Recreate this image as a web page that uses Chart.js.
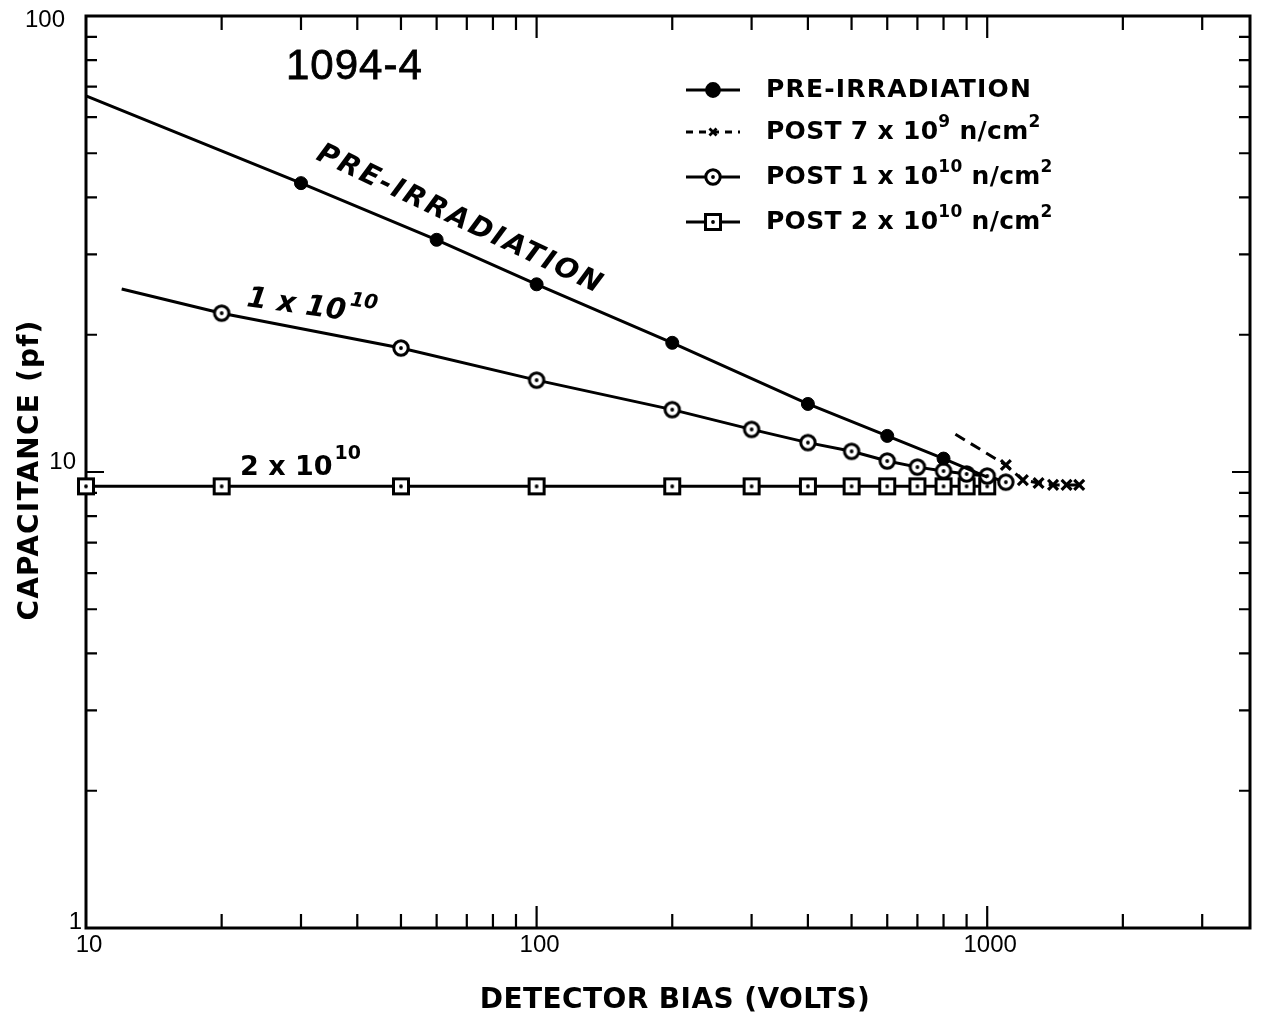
<!DOCTYPE html>
<html><head><meta charset="utf-8">
<script src="https://cdn.jsdelivr.net/npm/chart.js@4.4.0/dist/chart.umd.min.js"></script>
<style>html,body{margin:0;padding:0;background:#fff;}#wrap{width:1261px;height:1024px;position:relative;}</style>
</head><body><div id="wrap"><canvas id="c" width="1261" height="1024"></canvas></div>
<script>
// ---------- data ----------
const preBias = [30, 60, 100, 200, 400, 600, 800];
const preCap = [43.0, 32.3, 25.8, 19.2, 14.1, 12.0, 10.7];
const preLineStart = [10, 66.8];
const preLineEnd = [1000, 9.75];

const post7Bias = [1100, 1200, 1300, 1400, 1500, 1600];
const post7Cap = [10.36, 9.6, 9.46, 9.37, 9.37, 9.37];
const post7LineStart = [850, 12.1];

const post1Bias = [20, 50, 100, 200, 300, 400, 500, 600, 700, 800, 900, 1000, 1100];
const post1Cap = [22.3, 18.7, 15.9, 13.7, 12.4, 11.6, 11.1, 10.57, 10.25, 10.05, 9.9, 9.8, 9.5];
const post1LineStart = [12, 25.2];

const post2Bias = [10, 20, 50, 100, 200, 300, 400, 500, 600, 700, 800, 900, 1000];
const post2Cap = [9.3, 9.3, 9.3, 9.3, 9.3, 9.3, 9.3, 9.3, 9.3, 9.3, 9.3, 9.3, 9.3];

const xTickLabels = [10, 100, 1000];
const yTickLabels = [1, 10, 100];
const xRange = [10, 3830];
const yRange = [1, 100];

const chartTitle = '1094-4';
const xTitle = 'DETECTOR BIAS (VOLTS)';
const yTitle = 'CAPACITANCE (pf)';
const legendTexts = [
  [['PRE-IRRADIATION', 0]],
  [['POST 7 x 10', 0], ['9', 1], [' n/cm', 0], ['2', 1]],
  [['POST 1 x 10', 0], ['10', 1], [' n/cm', 0], ['2', 1]],
  [['POST 2 x 10', 0], ['10', 1], [' n/cm', 0], ['2', 1]]
];

// ---------- helpers ----------
const FD = '"DejaVu Sans", sans-serif';
const FL = '"Liberation Sans", Arial, sans-serif';

function pts(xs, ys) { return xs.map((x, i) => ({x: x, y: ys[i]})); }
function lineOnly(p) { return {x: p[0], y: p[1], lineOnly: true}; }

function makeMarker(kind) {
  const c = document.createElement('canvas');
  c.width = 22; c.height = 22;
  const g = c.getContext('2d');
  g.lineWidth = 3; g.strokeStyle = '#000'; g.fillStyle = '#fff';
  g.beginPath();
  if (kind === 'ring') g.arc(11, 11, 7.2, 0, Math.PI * 2);
  else g.rect(3.5, 3.5, 15, 15);
  g.fill(); g.stroke();
  g.fillStyle = '#000';
  g.beginPath(); g.arc(11, 11, 1.9, 0, Math.PI * 2); g.fill();
  return c;
}
const ringMarker = makeMarker('ring');
const squareMarker = makeMarker('square');

const hideLineOnly = r => ctx => (ctx.raw && ctx.raw.lineOnly) ? 0 : r;

const datasets = [
  {
    label: 'PRE-IRRADIATION',
    data: [lineOnly(preLineStart), ...pts(preBias, preCap), lineOnly(preLineEnd)],
    borderColor: '#000', borderWidth: 3,
    pointStyle: 'circle', pointRadius: hideLineOnly(6.5),
    pointBackgroundColor: '#000', pointBorderColor: '#000', pointBorderWidth: 1
  },
  {
    label: 'POST 7e9',
    data: [lineOnly(post7LineStart), ...pts(post7Bias, post7Cap)],
    borderColor: '#000', borderWidth: 3, borderDash: [11, 7],
    pointStyle: 'crossRot', pointRadius: hideLineOnly(7),
    pointBorderColor: '#000', pointBorderWidth: 3.2
  },
  {
    label: 'POST 1e10',
    data: [lineOnly(post1LineStart), ...pts(post1Bias, post1Cap)],
    borderColor: '#000', borderWidth: 3,
    pointStyle: ringMarker, pointRadius: hideLineOnly(8)
  },
  {
    label: 'POST 2e10',
    data: pts(post2Bias, post2Cap),
    borderColor: '#000', borderWidth: 3,
    pointStyle: squareMarker, pointRadius: 8
  }
];
datasets.forEach(d => { d.showLine = true; d.tension = 0; d.clip = false; d.fill = false; });

function drawParts(ctx, parts, x, yMid, size, supSize, spacing) {
  let cx = x;
  parts.forEach(([t, sup]) => {
    ctx.font = 'bold ' + (sup ? supSize : size) + 'px ' + FD;
    ctx.letterSpacing = spacing + 'px';
    ctx.textBaseline = 'alphabetic';
    const base = yMid + size * 0.36 - (sup ? size * 0.5 : 0);
    ctx.fillText(t, cx, base);
    cx += ctx.measureText(t).width;
  });
}

function fitText(ctx, text, target) {
  ctx.letterSpacing = '0px';
  const w = ctx.measureText(text).width;
  const sp = (target - w) / Math.max(1, text.length - 1);
  ctx.letterSpacing = sp.toFixed(2) + 'px';
}

const framePlugin = {
  id: 'frame',
  beforeDatasetsDraw(chart) {
    const {ctx, chartArea: a, scales: {x, y}} = chart;
    ctx.save();
    ctx.strokeStyle = '#000';
    ctx.lineWidth = 3;
    ctx.strokeRect(a.left, a.top, a.right - a.left, a.bottom - a.top);
    ctx.lineWidth = 2.2;
    for (let d = 1; d <= 4; d++) {
      for (let m = 1; m <= 9; m++) {
        const v = m * Math.pow(10, d);
        if (v <= xRange[0] || v >= xRange[1]) continue;
        const px = x.getPixelForValue(v);
        const len = m === 1 ? 22 : 14;
        ctx.beginPath();
        ctx.moveTo(px, a.bottom); ctx.lineTo(px, a.bottom - len);
        ctx.moveTo(px, a.top); ctx.lineTo(px, a.top + len);
        ctx.stroke();
      }
    }
    for (let d = 0; d <= 1; d++) {
      for (let m = 1; m <= 9; m++) {
        const v = m * Math.pow(10, d);
        if (v <= yRange[0] || v >= yRange[1]) continue;
        const py = y.getPixelForValue(v);
        const len = m === 1 ? 18 : 11;
        ctx.beginPath();
        ctx.moveTo(a.left, py); ctx.lineTo(a.left + len, py);
        ctx.moveTo(a.right, py); ctx.lineTo(a.right - len, py);
        ctx.stroke();
      }
    }
    ctx.restore();
  },
  afterDraw(chart) {
    const {ctx, chartArea: a, scales: {x, y}} = chart;
    ctx.save();
    ctx.fillStyle = '#000';
    // tick labels
    ctx.font = '24px ' + FL;
    ctx.textAlign = 'center'; ctx.textBaseline = 'top';
    xTickLabels.forEach(v => ctx.fillText(String(v), x.getPixelForValue(v) + 3, a.bottom + 5));
    ctx.textAlign = 'right'; ctx.textBaseline = 'middle';
    const yOff = [-6, -10, 4];
    const xOff = [4, 10, 21];
    yTickLabels.forEach((v, i) => ctx.fillText(String(v), a.left - xOff[i], y.getPixelForValue(v) + yOff[i]));

    // axis titles
    ctx.textAlign = 'center'; ctx.textBaseline = 'middle';
    ctx.font = 'bold 28px ' + FD;
    fitText(ctx, xTitle, 390);
    ctx.fillText(xTitle, 675, 1001);
    ctx.save();
    ctx.translate(31, 470); ctx.rotate(-Math.PI / 2);
    fitText(ctx, yTitle, 300);
    ctx.fillText(yTitle, 0, 0);
    ctx.restore();
    ctx.letterSpacing = '0px';

    // title
    ctx.font = '42px ' + FL;
    ctx.textAlign = 'left'; ctx.textBaseline = 'alphabetic';
    ctx.lineWidth = 0.8; ctx.strokeStyle = '#000';
    ctx.letterSpacing = '1px';
    ctx.fillText(chartTitle, 286, 79);
    ctx.strokeText(chartTitle, 286, 79);
    ctx.letterSpacing = '0px';

    // curve annotations
    ctx.save();
    ctx.translate(460, 220); ctx.rotate(25.5 * Math.PI / 180);
    ctx.font = 'italic bold 28px ' + FD;
    ctx.textAlign = 'center'; ctx.textBaseline = 'middle';
    fitText(ctx, 'PRE-IRRADIATION', 312);
    ctx.fillText('PRE-IRRADIATION', 0, 0);
    ctx.restore();

    ctx.save();
    ctx.translate(246, 306); ctx.rotate(8 * Math.PI / 180);
    ctx.textAlign = 'left';
    ctx.font = 'italic bold 29px ' + FD; ctx.letterSpacing = '0px';
    ctx.fillText('1 x 10', 0, 0);
    let w = ctx.measureText('1 x 10').width;
    ctx.font = 'italic bold 20px ' + FD;
    ctx.fillText('10', w + 3, -15);
    ctx.restore();

    ctx.save();
    ctx.textAlign = 'left';
    ctx.font = 'bold 27px ' + FD;
    ctx.fillText('2 x 10', 240, 475);
    w = ctx.measureText('2 x 10').width;
    ctx.font = 'bold 19px ' + FD;
    ctx.fillText('10', 240 + w + 2, 459);
    ctx.restore();

    // legend
    const rowsY = [88, 130, 175, 220];
    legendTexts.forEach((parts, i) => {
      const ds = chart.data.datasets[i];
      const yy = rowsY[i] + 2;
      ctx.save();
      ctx.strokeStyle = '#000'; ctx.lineWidth = 2.8;
      if (ds.borderDash) ctx.setLineDash([7, 6]);
      ctx.beginPath(); ctx.moveTo(686, yy); ctx.lineTo(740, yy); ctx.stroke();
      ctx.setLineDash([]);
      const r = i === 1 ? 5 : (i === 0 ? 6.5 : 8);
      Chart.helpers.drawPoint(ctx, {
        pointStyle: ds.pointStyle, radius: r, borderWidth: i === 1 ? 2.8 : 1, rotation: 0
      }, 713, yy);
      ctx.fillStyle = '#000';
      if (i === 0) { ctx.beginPath(); ctx.arc(713, yy, 6.5, 0, Math.PI * 2); ctx.fill(); }
      ctx.restore();
      drawParts(ctx, parts, 766, rowsY[i], 25, 17, i === 0 ? 1.2 : 0.3);
    });
    ctx.restore();
  }
};

new Chart(document.getElementById('c'), {
  type: 'line',
  data: {datasets: datasets},
  options: {
    responsive: false, animation: false, devicePixelRatio: 1,
    layout: {padding: {left: 86, top: 16, right: 0, bottom: 96}},
    plugins: {legend: {display: false}, tooltip: {enabled: false}},
    scales: {
      x: {type: 'logarithmic', min: xRange[0], max: xRange[1], display: false},
      y: {type: 'logarithmic', min: yRange[0], max: yRange[1], display: false}
    }
  },
  plugins: [framePlugin]
});
</script></body></html>
